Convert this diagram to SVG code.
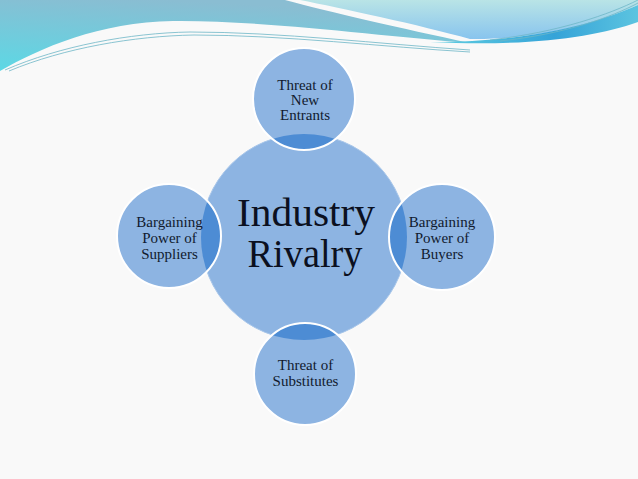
<svg xmlns="http://www.w3.org/2000/svg" width="638" height="479" viewBox="0 0 638 479">
<style>
.small{fill:#8db4e2}
.ring{fill:none;stroke:#ffffff;stroke-width:2}
.lens{fill:#4d8cd4}
.lbl{font-family:"Liberation Serif","Times New Roman",serif;font-size:15px;fill:#111a2e;text-anchor:middle}
.big{font-family:"Liberation Serif","Times New Roman",serif;font-size:39px;fill:#0b1020;text-anchor:middle}
.thin{fill:none;stroke:#6db6c6;stroke-width:0.8}
</style>
<defs>
<linearGradient id="gLeft" x1="0.35" y1="0" x2="0" y2="1">
<stop offset="0" stop-color="#8abdd2"/>
<stop offset="1" stop-color="#5cd8e5"/>
</linearGradient>
<linearGradient id="gRight" x1="0" y1="0" x2="0" y2="1">
<stop offset="0" stop-color="#b9e4e6"/>
<stop offset="1" stop-color="#88c4ee"/>
</linearGradient>
<linearGradient id="gStreak" x1="0" y1="0" x2="1" y2="0">
<stop offset="0" stop-color="#62d0e2"/>
<stop offset="0.6" stop-color="#35a3d8"/>
<stop offset="1" stop-color="#5cc4e0"/>
</linearGradient>
<clipPath id="cTop"><circle cx="304" cy="99" r="51"/></clipPath>
<clipPath id="cLeft"><circle cx="169" cy="236" r="52"/></clipPath>
<clipPath id="cRight"><circle cx="442" cy="237" r="53"/></clipPath>
<clipPath id="cBottom"><circle cx="305" cy="374" r="51"/></clipPath>
</defs>
<rect width="638" height="479" fill="#f9f9f9"/>
<g id="decor">
<path d="M0,0 L285,0 C330,12 400,28 470,43 C380,36 260,20 173,21 C100,22 40,48 0,71 Z" fill="url(#gLeft)"/>
<path d="M300,0 C340,8 420,25 470,39 C540,40 600,22 638,5 L638,0 Z" fill="url(#gRight)"/>
<path d="M430,42 C530,42 595,24 638,5 L638,22 C595,37 530,47 430,42 Z" fill="url(#gStreak)"/>
<path class="thin" d="M5,70 C60,46 130,33 190,32 C280,32 380,44 470,50"/>
<path class="thin" d="M9,71 C64,48 134,36 194,35 C284,35 384,47 470,52"/>
<path class="thin" d="M490,40 C560,32 610,14 638,0" stroke="#4fb0d8"/>
<path class="thin" d="M500,41 C565,34 612,17 638,3" stroke="#4fb0d8"/>
</g>
<g id="connectors"></g>
<g id="rivalry">
<circle cx="304" cy="237" r="103" fill="#8db4e2" stroke="#a9c7ea" stroke-width="1"/>
<text class="big" x="306" y="226" textLength="138" lengthAdjust="spacingAndGlyphs">Industry</text>
<text class="big" x="305" y="267" textLength="115" lengthAdjust="spacingAndGlyphs">Rivalry</text>
</g>
<g id="entrants">
<circle class="small" cx="304" cy="99" r="51"/>
<circle class="lens" cx="304" cy="237" r="103" clip-path="url(#cTop)"/>
<circle class="ring" cx="304" cy="99" r="51"/>
<text class="lbl" x="305" y="89.5">Threat of</text>
<text class="lbl" x="305" y="104.5">New</text>
<text class="lbl" x="305" y="120">Entrants</text>
</g>
<g id="suppliers">
<circle class="small" cx="169" cy="236" r="52"/>
<circle class="lens" cx="304" cy="237" r="103" clip-path="url(#cLeft)"/>
<circle class="ring" cx="169" cy="236" r="52"/>
<text class="lbl" x="169.5" y="226.5">Bargaining</text>
<text class="lbl" x="169.5" y="242.5">Power of</text>
<text class="lbl" x="169.5" y="258.5">Suppliers</text>
</g>
<g id="buyers">
<circle class="small" cx="442" cy="237" r="53"/>
<circle class="lens" cx="304" cy="237" r="103" clip-path="url(#cRight)"/>
<circle class="ring" cx="442" cy="237" r="53"/>
<text class="lbl" x="442" y="227">Bargaining</text>
<text class="lbl" x="442" y="243">Power of</text>
<text class="lbl" x="442" y="259">Buyers</text>
</g>
<g id="substitutes">
<circle class="small" cx="305" cy="374" r="51"/>
<circle class="lens" cx="304" cy="237" r="103" clip-path="url(#cBottom)"/>
<circle class="ring" cx="305" cy="374" r="51"/>
<text class="lbl" x="305.5" y="370">Threat of</text>
<text class="lbl" x="305.5" y="385.5">Substitutes</text>
</g>
</svg>
